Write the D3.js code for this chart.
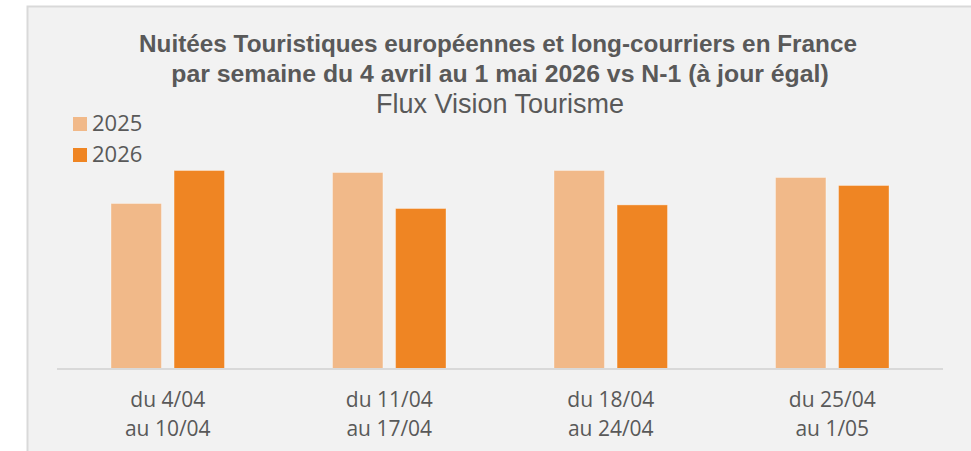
<!DOCTYPE html>
<html>
<head>
<meta charset="utf-8">
<script src="https://cdn.jsdelivr.net/npm/d3@7"></script>
<style>
  body { margin: 0; background: #fff; }
  svg { display: block; font-family: "Liberation Sans", Arial, sans-serif; }
</style>
</head>
<body>
<svg id="chart" width="971" height="451"></svg>
<script>
// weeks on the x axis (two lines each)
var weeks = ["w1", "w2", "w3", "w4"];
var weekLabels = [["du 4/04", "au 10/04"], ["du 11/04", "au 17/04"], ["du 18/04", "au 24/04"], ["du 25/04", "au 1/05"]];
var years = ["2025", "2026"];
// nuitées (arbitrary units)
var values2025 = [8.25, 9.8, 9.9, 9.55];
var values2026 = [9.9, 8.0, 8.18, 9.15];
var colors = ["#f1b989", "#ef8523"];

var svg = d3.select("#chart"),
    width = +svg.attr("width"),
    height = +svg.attr("height");

// chart area frame
svg.append("rect")
    .attr("x", 27.5).attr("y", 6.5)
    .attr("width", 960).attr("height", 460)
    .attr("fill", "#f2f2f2")
    .attr("stroke", "#d9d9d9")
    .attr("stroke-width", 2);

var x = d3.scaleBand().domain(weeks).range([57, 943]).paddingInner(0).paddingOuter(0);
var x1 = d3.scaleBand().domain(years).range([54, x.bandwidth() - 54]).paddingInner(0.2);
var y = d3.scaleLinear().domain([0, 10]).range([368.5, 168.5]);

var rows = weeks.map(function(w, i) {
    return { week: w, vals: [values2025[i], values2026[i]] };
});

var g = svg.selectAll(".grp")
    .data(rows)
    .enter().append("g")
    .attr("class", "grp")
    .attr("transform", function(d) { return "translate(" + x(d.week) + ",0)"; });

g.selectAll("rect")
    .data(function(d) { return d.vals.map(function(v, j) { return { year: years[j], v: v, c: colors[j] }; }); })
    .enter().append("rect")
    .attr("x", function(d) { return x1(d.year); })
    .attr("y", function(d) { return y(d.v); })
    .attr("width", x1.bandwidth())
    .attr("height", function(d) { return y(0) - y(d.v); })
    .attr("fill", function(d) { return d.c; })
    .attr("stroke", "rgba(255,255,255,0.35)")
    .attr("stroke-width", 1);

// baseline
svg.append("line")
    .attr("x1", 57).attr("x2", 943)
    .attr("y1", y(0) + 0.5).attr("y2", y(0) + 0.5)
    .attr("stroke", "#d9d9d9").attr("stroke-width", 2);

// category labels
var lab = svg.selectAll(".lab")
    .data(weeks)
    .enter().append("text")
    .attr("class", "lab")
    .attr("text-anchor", "middle")
    .attr("fill", "#595959")
    .style("font-family", "'Open Sans', sans-serif")
    .style("font-size", "21px");
lab.each(function(w, i) {
    var t = d3.select(this);
    weekLabels[i].forEach(function(s, k) {
        t.append("tspan")
            .attr("x", x(w) + x.bandwidth() / 2)
            .attr("y", 407 + k * 29)
            .text(s);
    });
});

// titles
svg.append("text")
    .attr("x", 498).attr("y", 52)
    .attr("text-anchor", "middle")
    .attr("fill", "#595959")
    .style("font-size", "24.3px").style("font-weight", "bold")
    .text("Nuitées Touristiques européennes et long-courriers en France");
svg.append("text")
    .attr("x", 500).attr("y", 82)
    .attr("text-anchor", "middle")
    .attr("fill", "#595959")
    .style("font-size", "24.8px").style("font-weight", "bold")
    .text("par semaine du 4 avril au 1 mai 2026 vs N-1 (à jour égal)");
svg.append("text")
    .attr("x", 500).attr("y", 113)
    .attr("text-anchor", "middle")
    .attr("fill", "#595959")
    .style("font-size", "27px")
    .text("Flux Vision Tourisme");

// legend
var leg = svg.selectAll(".leg")
    .data(years)
    .enter().append("g")
    .attr("class", "leg")
    .attr("transform", function(d, i) { return "translate(73," + (117 + i * 31) + ")"; });
leg.append("rect")
    .attr("width", 14).attr("height", 14)
    .attr("fill", function(d, i) { return colors[i]; });
leg.append("text")
    .attr("x", 19).attr("y", 13.5)
    .attr("fill", "#595959")
    .style("font-family", "'Open Sans', sans-serif")
    .style("font-size", "22px")
    .text(function(d) { return d; });
</script>
</body>
</html>
